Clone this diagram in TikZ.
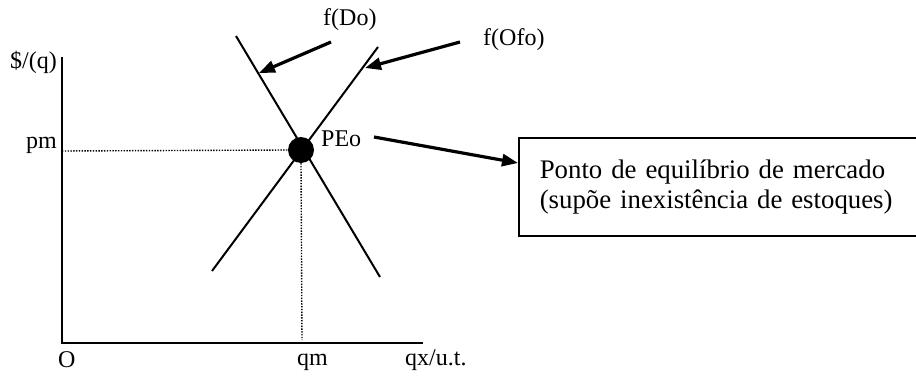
\documentclass[tikz,border=0pt]{standalone}
\usepackage{fontspec}
\setmainfont{Liberation Serif}
\usetikzlibrary{arrows.meta,calc}
\begin{document}
\begin{tikzpicture}[x=1pt,y=-1pt,
  lbl/.style={font=\fontsize{24}{27}\selectfont, inner sep=0pt},
  curve/.style={line width=2pt},
  axisline/.style={line width=2.4pt},
  guide/.style={line width=1.4pt, dash pattern=on 1.4pt off 1.4pt},
  pointer/.style={line width=3.2pt, -{Triangle[length=16pt,width=12pt]}},
  infobox/.style={draw, line width=1.6pt, anchor=north west, minimum width=420pt, minimum height=98pt,
     align=left, text width=380pt, inner xsep=21pt, font=\fontsize{26.8}{29.5}\selectfont}]
\useasboundingbox (0,0) rectangle (916,375);
\clip (0,0) rectangle (916,375);
% axes
\coordinate (O) at (62,343);
\coordinate (ytop) at (62,57);
\coordinate (xend) at (423,343);
\draw[axisline] (ytop) -- (O) -- (xend);
% curves
\coordinate (d1) at (236,36);
\coordinate (d2) at (380,277);
\coordinate (s1) at (378,47);
\coordinate (s2) at (212,271);
\draw[curve] (d1) -- (d2);
\draw[curve] (s1) -- (s2);
% equilibrium
\node[circle, fill=black, minimum size=26pt, inner sep=0pt] (eq) at (301,150) {};
\coordinate (pmaxis) at (62,151);
\coordinate (qmaxis) at (302,340);
\draw[guide] (pmaxis) -- (eq.west);
\draw[guide] (eq.south) -- (qmaxis);
% labels
\node[lbl, anchor=base east] (ylab) at (57,68) {\$/(q)};
\node[lbl, anchor=base east] (pm) at (57,148) {pm};
\node[lbl, anchor=base west] (peo) at (321,146) {PEo};
\node[lbl, anchor=base west] (olab) at (58,367) {O};
\node[lbl, anchor=base west] (qm) at (297,365) {qm};
\node[lbl, anchor=base west] (qx) at (405,365) {qx/u.t.};
\node[lbl, anchor=base west] (fdo) at (323,25) {f(Do)};
\node[lbl, anchor=base west] (fofo) at (483,45) {f(Ofo)};
% box
\node[infobox] (box) at (518,137) {Ponto de equilíbrio de mercado\\(supõe inexistência de estoques)};
% pointers
\coordinate (a1s) at (331,42);
\coordinate (a1e) at (259,73);
\coordinate (a2s) at (460,42);
\coordinate (a2e) at (365,68);
\coordinate (a3s) at (374,137);
\coordinate (a3e) at ($(box.north west)+(0,26)$);
\draw[pointer] (a1s) -- (a1e);
\draw[pointer] (a2s) -- (a2e);
\draw[pointer] (a3s) -- (a3e);
\end{tikzpicture}
\end{document}
